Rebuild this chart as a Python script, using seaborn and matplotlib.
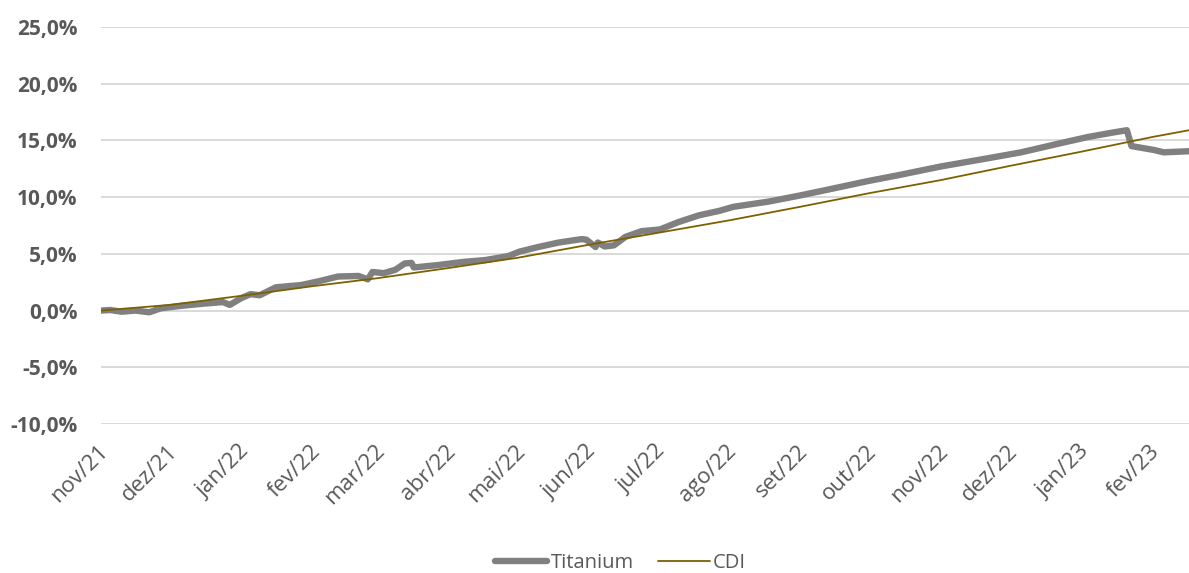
import matplotlib
matplotlib.use("Agg")
import matplotlib.pyplot as plt
import matplotlib.transforms as mtransforms
import pandas as pd
import seaborn as sns
from matplotlib.ticker import FuncFormatter
from matplotlib.lines import Line2D

# ---------------- data ----------------
titanium_dates = [
    "2021-11-01", "2021-11-05", "2021-11-10", "2021-11-16", "2021-11-22", "2021-11-27",
    "2021-12-05", "2021-12-15", "2021-12-24", "2021-12-27", "2022-01-01", "2022-01-05",
    "2022-01-09", "2022-01-16", "2022-01-27", "2022-02-04", "2022-02-12", "2022-02-21",
    "2022-02-25", "2022-02-27", "2022-03-04", "2022-03-09", "2022-03-13", "2022-03-16",
    "2022-03-17", "2022-03-27", "2022-04-08", "2022-04-17", "2022-04-27", "2022-05-02",
    "2022-05-10", "2022-05-19", "2022-05-29", "2022-05-31", "2022-06-04", "2022-06-05",
    "2022-06-08", "2022-06-12", "2022-06-17", "2022-06-24", "2022-07-02", "2022-07-10",
    "2022-07-19", "2022-07-28", "2022-08-03", "2022-08-18", "2022-09-01", "2022-09-15",
    "2022-09-30", "2022-10-14", "2022-11-01", "2022-11-18", "2022-12-06", "2022-12-23",
    "2023-01-04", "2023-01-15", "2023-01-21", "2023-01-23", "2023-02-02", "2023-02-06",
    "2023-02-17",
]
titanium_values = [
    0.0, 0.05, -0.1, 0.0, -0.15, 0.2,
    0.4, 0.6, 0.75, 0.5, 1.1, 1.45,
    1.35, 2.05, 2.25, 2.6, 3.0, 3.05,
    2.75, 3.4, 3.3, 3.6, 4.15, 4.2,
    3.8, 4.0, 4.3, 4.45, 4.8, 5.2,
    5.6, 6.0, 6.3, 6.25, 5.6, 6.0,
    5.65, 5.75, 6.5, 7.0, 7.15, 7.8,
    8.4, 8.8, 9.15, 9.6, 10.15, 10.75,
    11.4, 11.95, 12.7, 13.3, 13.95, 14.75,
    15.3, 15.7, 15.9, 14.5, 14.15, 13.95,
    14.05,
]

cdi_dates = [
    "2021-11-01", "2021-12-01", "2022-01-01", "2022-02-01", "2022-03-01", "2022-04-01",
    "2022-05-01", "2022-06-01", "2022-07-01", "2022-08-01", "2022-09-01", "2022-10-01",
    "2022-11-01", "2022-12-01", "2023-01-01", "2023-02-01", "2023-02-17",
]
cdi_values = [
    0.0, 0.5, 1.3, 2.15, 2.85, 3.75,
    4.65, 5.8, 6.85, 7.95, 9.15, 10.35,
    11.5, 12.75, 14.0, 15.3, 15.9,
]

month_ticks = [
    "2021-11-01", "2021-12-01", "2022-01-01", "2022-02-01", "2022-03-01", "2022-04-01",
    "2022-05-01", "2022-06-01", "2022-07-01", "2022-08-01", "2022-09-01", "2022-10-01",
    "2022-11-01", "2022-12-01", "2023-01-01", "2023-02-01",
]
month_labels = [
    "nov/21", "dez/21", "jan/22", "fev/22", "mar/22", "abr/22", "mai/22", "jun/22",
    "jul/22", "ago/22", "set/22", "out/22", "nov/22", "dez/22", "jan/23", "fev/23",
]
y_ticks = [-10, -5, 0, 5, 10, 15, 20, 25]

series_names = ["Titanium", "CDI"]
series_colors = ["#808080", "#7F6000"]

# ---------------- plot ----------------
sns.set_theme(style="white")
plt.rcParams["font.family"] = ["Open Sans", "DejaVu Sans"]

W, H = 1189, 573
fig = plt.figure(figsize=(W / 100, H / 100), dpi=100)
ax = fig.add_axes([101 / W, 1 - 424 / H, 1 - 101 / W, (424 - 27) / H])

df_t = pd.DataFrame({"date": pd.to_datetime(titanium_dates), "value": titanium_values})
df_c = pd.DataFrame({"date": pd.to_datetime(cdi_dates), "value": cdi_values})

sns.lineplot(data=df_t, x="date", y="value", ax=ax, color=series_colors[0],
             linewidth=4.6, legend=False, solid_joinstyle="round")
sns.lineplot(data=df_c, x="date", y="value", ax=ax, color=series_colors[1],
             linewidth=1.3, legend=False)

ax.set_ylim(-10, 25)
ax.set_xlim(pd.Timestamp("2021-11-01"), pd.Timestamp("2023-02-17"))
ax.set_yticks(y_ticks)
ax.yaxis.set_major_formatter(FuncFormatter(lambda v, p: f"{v:.1f}%".replace(".", ",")))
ax.set_xticks(pd.to_datetime(month_ticks))
ax.set_xticklabels(month_labels, rotation=45, ha="right", rotation_mode="anchor")

ax.grid(axis="y", color="#d9d9d9", linewidth=1.4)
ax.grid(axis="x", visible=False)
for s in ax.spines.values():
    s.set_visible(False)
ax.tick_params(axis="both", length=0)
ax.tick_params(axis="y", pad=17, labelsize=15, labelcolor="#595959")
for lab in ax.get_yticklabels():
    lab.set_fontweight("bold")
ax.tick_params(axis="x", pad=12, labelsize=16, labelcolor="#595959")
shift = mtransforms.ScaledTranslation(-3 / 100, 0, fig.dpi_scale_trans)
for lab in ax.get_xticklabels():
    lab.set_transform(lab.get_transform() + shift)
ax.set_xlabel("")
ax.set_ylabel("")

handles = [
    Line2D([], [], color=series_colors[0], linewidth=4.6),
    Line2D([], [], color=series_colors[1], linewidth=1.3),
]
fig.legend(handles, series_names, loc="center", bbox_to_anchor=(0.522, 1 - 563 / H),
           ncol=2, frameon=False, fontsize=14.5, handlelength=2.6, handletextpad=0.15,
           columnspacing=1.2, labelcolor="#595959")

fig.savefig("out.png", dpi=100)
